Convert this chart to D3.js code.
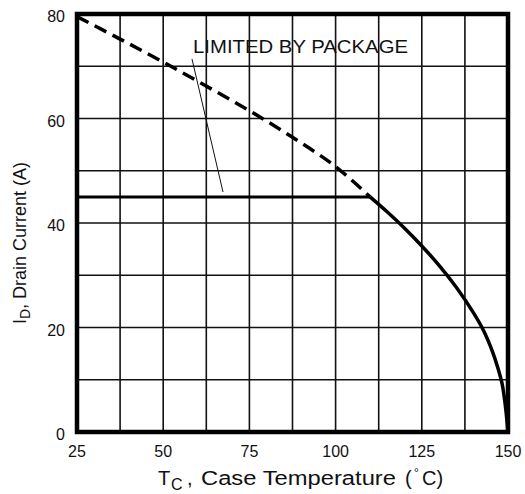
<!DOCTYPE html>
<html>
<head>
<meta charset="utf-8">
<script src="https://cdn.jsdelivr.net/npm/d3@7"></script>
<style>
  body { margin: 0; background: #fff; }
  text { font-family: "Liberation Sans", Arial, sans-serif; fill: #111; }
</style>
</head>
<body>
<div id="chart"></div>
<script>
// Case temperature (°C) vs drain current (A)
const packageLimitLine = [[25, 45], [110, 45]];
const dashedCurve = [[25, 79.5], [37.5, 75.2], [50, 70.8], [62.5, 66.2], [75, 61.5], [87.5, 56.4], [100, 50.8], [110, 45]];
const solidCurve = [[110, 45], [115, 42.1], [120, 39.0], [125, 35.6], [130, 31.9], [135, 27.7], [140, 22.8], [143, 19.3], [145.5, 15.4], [147, 12.4], [148.3, 9.2], [149.2, 5.2], [150, 0]];
const xTicks = [25, 37.5, 50, 62.5, 75, 87.5, 100, 112.5, 125, 137.5, 150];
const xTickLabels = [25, 50, 75, 100, 125, 150];
const yTicks = [0, 10, 20, 30, 40, 50, 60, 70, 80];
const yTickLabels = [0, 20, 40, 60, 80];
const annotation = "LIMITED BY PACKAGE";

const width = 525, height = 494;
const margin = { left: 77, right: 17, top: 14, bottom: 62 };

const svg = d3.select("#chart").append("svg")
  .attr("width", width)
  .attr("height", height);

const x = d3.scaleLinear().domain([25, 150]).range([margin.left, width - margin.right]);
const y = d3.scaleLinear().domain([0, 80]).range([height - margin.bottom, margin.top]);

// grid
svg.append("g").selectAll("line").data(xTicks).enter().append("line")
  .attr("x1", d => x(d)).attr("x2", d => x(d))
  .attr("y1", y(0)).attr("y2", y(80))
  .attr("stroke", "#111").attr("stroke-width", 1.6);
svg.append("g").selectAll("line").data(yTicks).enter().append("line")
  .attr("x1", x(25)).attr("x2", x(150))
  .attr("y1", d => y(d)).attr("y2", d => y(d))
  .attr("stroke", "#111").attr("stroke-width", 1.6);

// frame
svg.append("rect")
  .attr("x", x(25)).attr("y", y(80))
  .attr("width", x(150) - x(25)).attr("height", y(0) - y(80))
  .attr("fill", "none").attr("stroke", "#000").attr("stroke-width", 4.5);

// tick labels
svg.append("g").selectAll("text").data(yTickLabels).enter().append("text")
  .attr("x", x(25) - 12).attr("y", d => y(d) + 8)
  .attr("text-anchor", "end").attr("font-size", 16)
  .text(d => d);
svg.append("g").selectAll("text").data(xTickLabels).enter().append("text")
  .attr("x", d => x(d)).attr("y", y(0) + 25)
  .attr("text-anchor", "middle").attr("font-size", 16)
  .text(d => d);

const line = d3.line().x(d => x(d[0])).y(d => y(d[1]));
const curve = d3.line().x(d => x(d[0])).y(d => y(d[1])).curve(d3.curveCatmullRom.alpha(0.5));

svg.append("path").datum(dashedCurve)
  .attr("d", curve).attr("fill", "none")
  .attr("stroke", "#000").attr("stroke-width", 3.5)
  .attr("stroke-dasharray", "13,7");
svg.append("path").datum(packageLimitLine)
  .attr("d", line).attr("fill", "none")
  .attr("stroke", "#000").attr("stroke-width", 3);
svg.append("path").datum(solidCurve)
  .attr("d", curve).attr("fill", "none")
  .attr("stroke", "#000").attr("stroke-width", 3.5);

// annotation and pointer
svg.append("text")
  .attr("x", 193).attr("y", 53)
  .attr("font-size", 19).attr("textLength", 215).attr("lengthAdjust", "spacingAndGlyphs")
  .text(annotation);
svg.append("line")
  .attr("x1", 192).attr("y1", 59).attr("x2", 223).attr("y2", 192)
  .attr("stroke", "#111").attr("stroke-width", 1);

// axis titles
const xt = svg.append("text").attr("y", 485).attr("font-size", 20);
xt.append("tspan").attr("x", 158).text("T");
xt.append("tspan").attr("x", 171).attr("font-size", 16).attr("dy", 5).text("C");
xt.append("tspan").attr("x", 187).attr("dy", -5).text(",");
xt.append("tspan").attr("x", 201)
  .attr("textLength", 195).attr("lengthAdjust", "spacingAndGlyphs")
  .text("Case Temperature");
xt.append("tspan").attr("x", 405).text("(");
xt.append("tspan").attr("x", 414).attr("font-size", 12).attr("dy", -8).text("°");
xt.append("tspan").attr("x", 422).attr("dy", 8).text("C)");

const yt = svg.append("text")
  .attr("transform", `translate(26,${243}) rotate(-90)`)
  .attr("text-anchor", "middle").attr("font-size", 18);
yt.append("tspan").text("I");
yt.append("tspan").attr("font-size", 14).attr("dy", 4).text("D");
yt.append("tspan").attr("dy", -4).text(", Drain Current (A)");
</script>
</body>
</html>
